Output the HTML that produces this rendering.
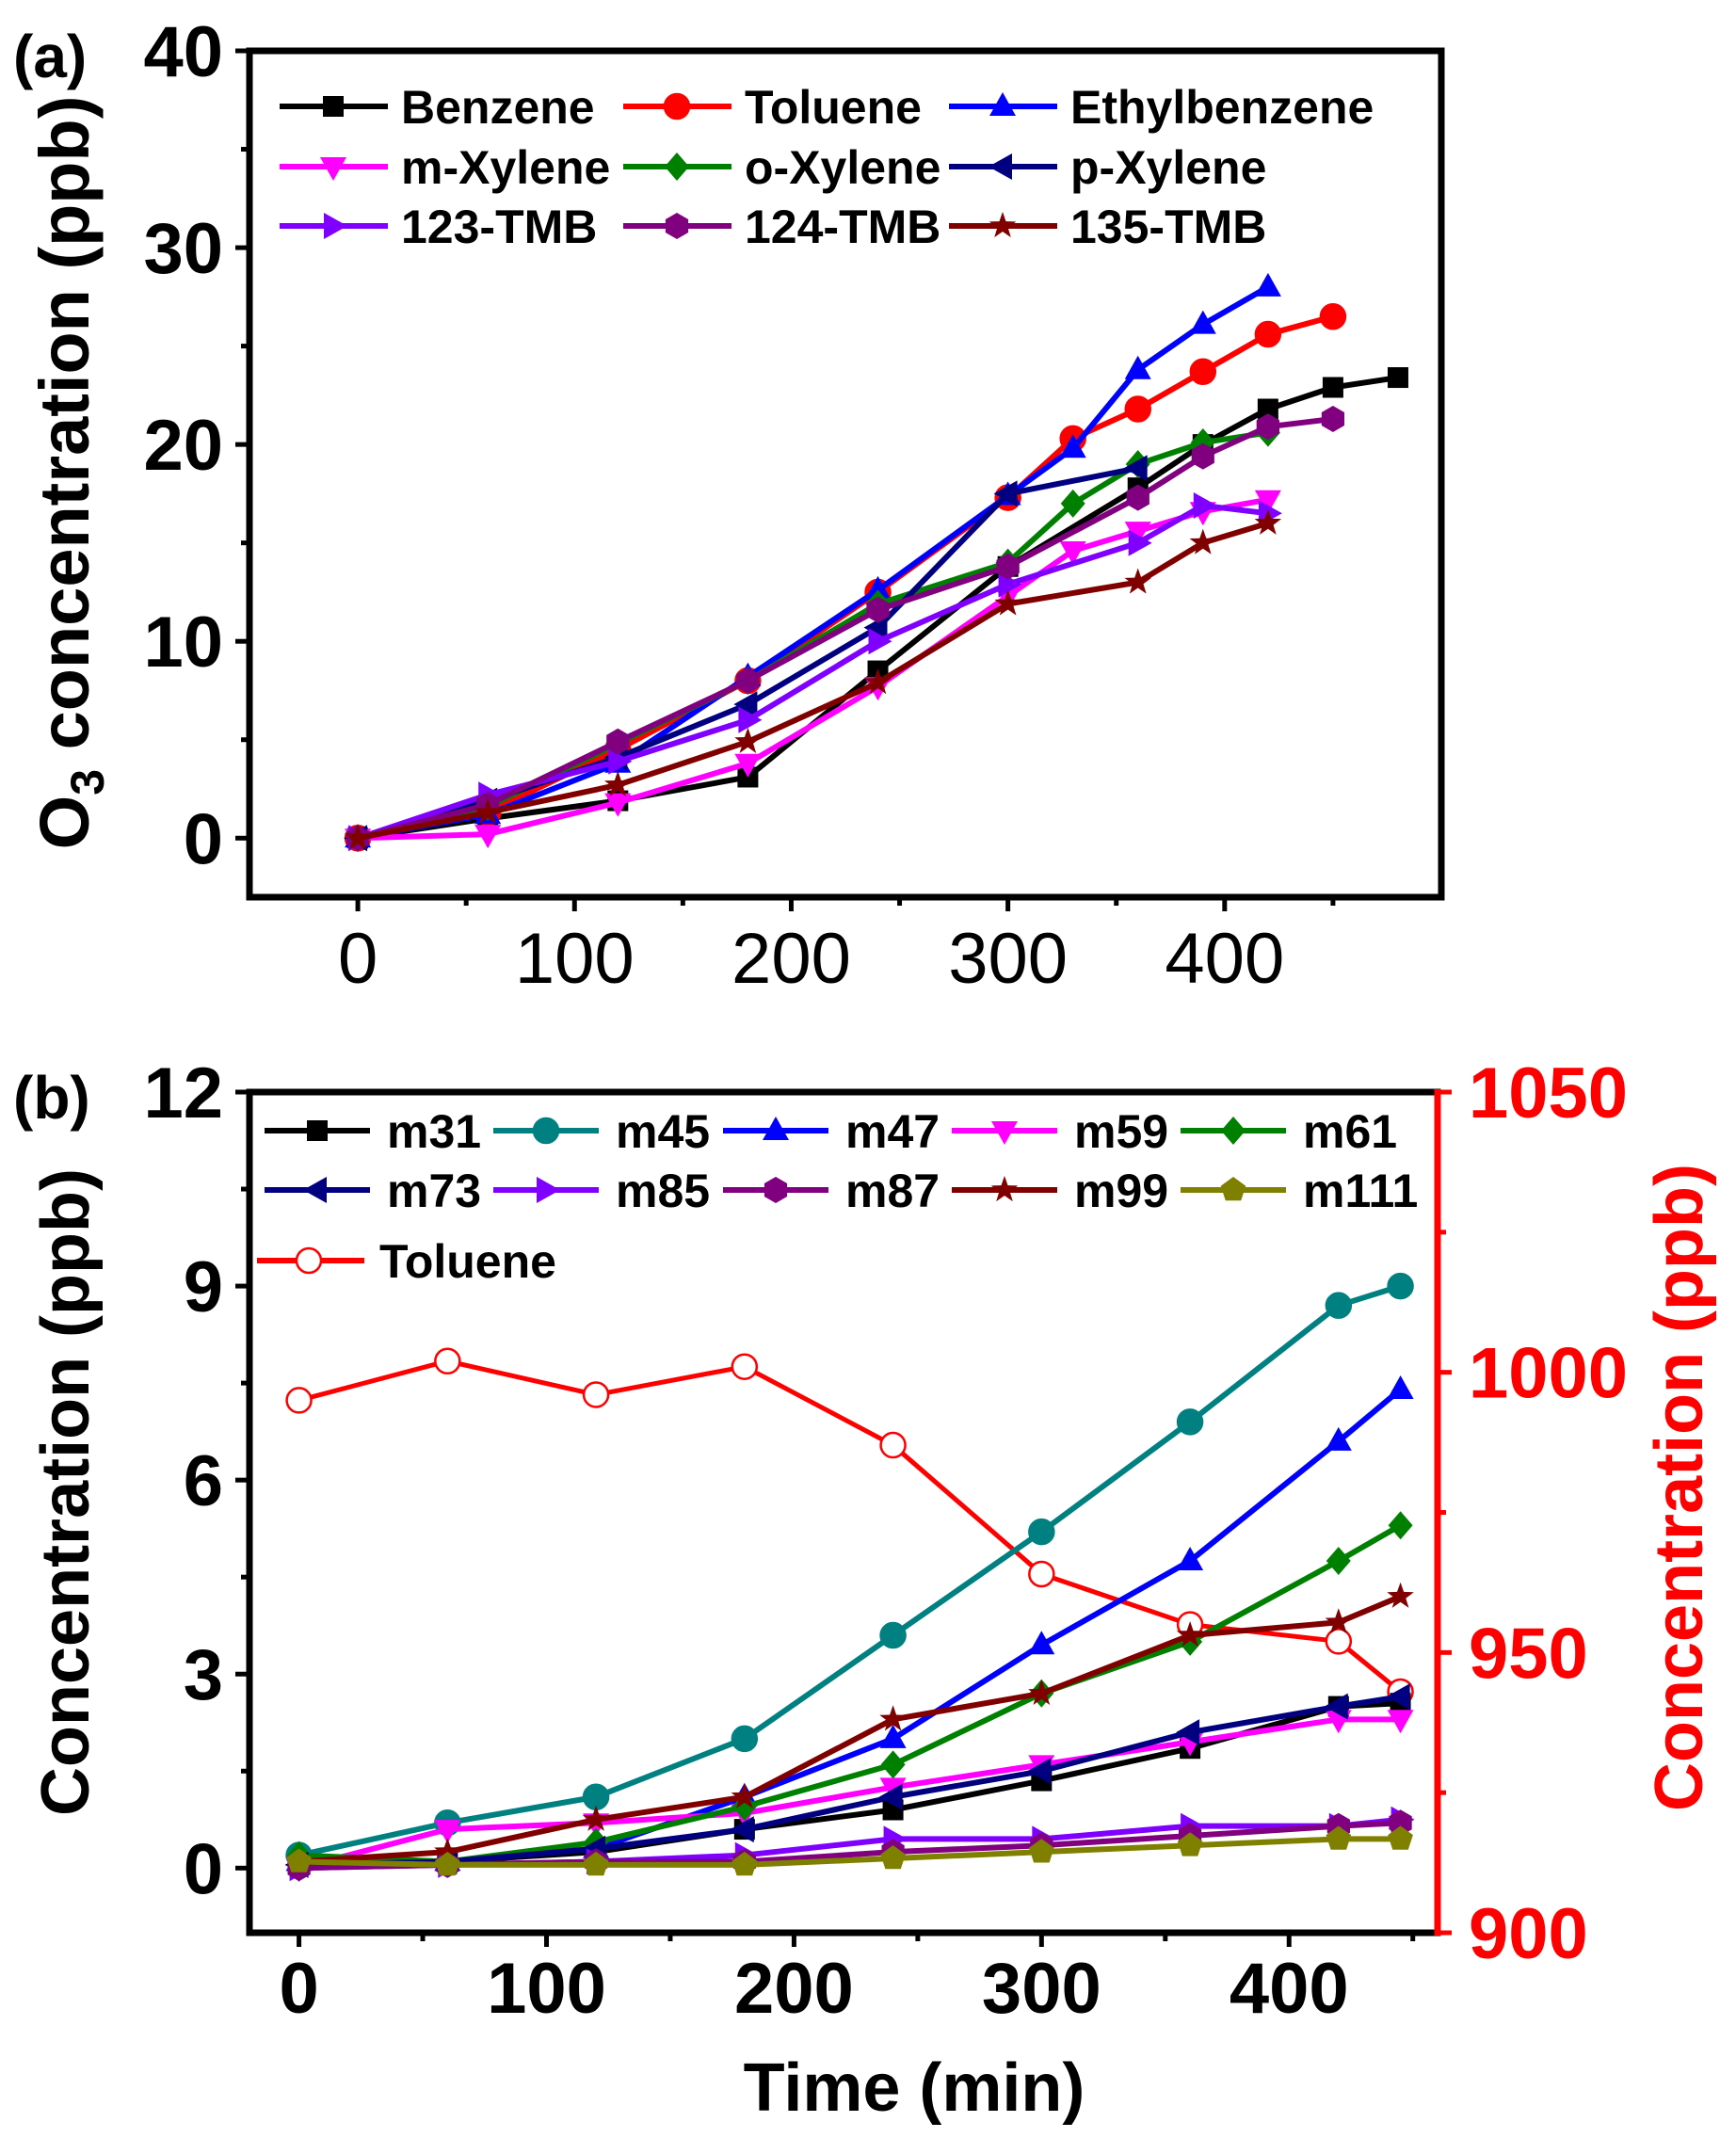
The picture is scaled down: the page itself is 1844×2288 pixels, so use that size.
<!DOCTYPE html>
<html><head><meta charset="utf-8"><style>
body{margin:0;background:#fff}
svg text{font-family:"Liberation Sans",Arial,sans-serif;font-weight:bold}
</style></head><body>
<svg id="s" width="1844" height="2283" viewBox="0 0 1844 2283" xmlns="http://www.w3.org/2000/svg"></svg>
<script>
// ---- Panel (a) data ----
const aSeries = ["Benzene","Toluene","Ethylbenzene","m-Xylene","o-Xylene","p-Xylene","123-TMB","124-TMB","135-TMB"];
const aColors = ["#000000","#ff0000","#0000ff","#ff00ff","#008000","#000080","#8000ff","#800080","#800000"];
const aMarkers = ["square","circle","up","down","diamond","left","right","hex","star"];
const aX_Benzene = [0,60,120,180,240,300,360,390,420,450,480];
const aY_Benzene = [0,1,1.9,3.1,8.5,13.8,17.8,20,21.8,22.9,23.4];
const aX_Toluene = [0,60,120,180,240,300,330,360,390,420,450];
const aY_Toluene = [0,1.3,4.5,8,12.5,17.3,20.3,21.8,23.7,25.6,26.5];
const aX_Ethyl = [0,60,120,180,240,300,330,360,390,420];
const aY_Ethyl = [0,1.2,3.8,8.2,12.6,17.4,19.8,23.8,26.1,28];
const aX_mX = [0,60,120,180,240,300,330,360,390,420];
const aY_mX = [0,0.2,1.8,3.8,7.7,12.3,14.6,15.6,16.6,17.2];
const aX_oX = [0,60,120,180,240,300,330,360,390,420];
const aY_oX = [0,1.6,4.8,8,11.9,14,17,19,20.1,20.6];
const aX_pX = [0,60,120,180,240,300,360];
const aY_pX = [0,1.9,4.1,6.8,10.7,17.5,18.8];
const aX_123 = [0,60,120,180,240,300,360,390,420];
const aY_123 = [0,2.2,3.9,6,10,12.9,15,16.9,16.5];
const aX_124 = [0,60,120,180,240,300,360,390,420,450];
const aY_124 = [0,1.7,4.9,8,11.6,13.8,17.3,19.4,20.9,21.3];
const aX_135 = [0,60,120,180,240,300,360,390,420];
const aY_135 = [0,1.3,2.7,4.9,7.9,11.9,13,15,16];
const aXs = [aX_Benzene,aX_Toluene,aX_Ethyl,aX_mX,aX_oX,aX_pX,aX_123,aX_124,aX_135];
const aYs = [aY_Benzene,aY_Toluene,aY_Ethyl,aY_mX,aY_oX,aY_pX,aY_123,aY_124,aY_135];
const aXTicks = [0,100,200,300,400];
const aYTicks = [0,10,20,30,40];
// ---- Panel (b) data ----
const bTimes = [0,60,120,180,240,300,360,420,445];
const bSeries = ["m31","m45","m47","m59","m61","m73","m85","m87","m99","m111"];
const bColors = ["#000000","#008080","#0000ff","#ff00ff","#008000","#000080","#8000ff","#800080","#800000","#808000"];
const bMarkers = ["square","circle","up","down","diamond","left","right","hex","star","pent"];
const b_m31 = [0.1,0.1,0.25,0.6,0.9,1.35,1.85,2.5,2.55];
const b_m45 = [0.2,0.7,1.1,2.0,3.6,5.2,6.9,8.7,9.0];
const b_m47 = [0.1,0.1,0.3,1.1,2.0,3.45,4.75,6.6,7.4];
const b_m59 = [0,0.6,0.7,0.85,1.25,1.6,1.95,2.3,2.3];
const b_m61 = [0.2,0.1,0.4,0.95,1.6,2.7,3.5,4.75,5.3];
const b_m73 = [0.05,0.1,0.3,0.6,1.1,1.5,2.1,2.5,2.65];
const b_m85 = [0,0.05,0.1,0.2,0.45,0.45,0.65,0.65,0.75];
const b_m87 = [0,0.05,0.1,0.1,0.25,0.35,0.5,0.65,0.7];
const b_m99 = [0.1,0.25,0.75,1.1,2.3,2.7,3.6,3.8,4.2];
const b_m111 = [0.1,0.05,0.05,0.05,0.15,0.25,0.35,0.45,0.45];
const bYs = [b_m31,b_m45,b_m47,b_m59,b_m61,b_m73,b_m85,b_m87,b_m99,b_m111];
const bToluene = [995,1002,996,1001,987,964,955,952,943];
const bXTicks = [0,100,200,300,400];
const bYTicks = [0,3,6,9,12];
const bRTicks = [900,950,1000,1050];

const NS="http://www.w3.org/2000/svg";
const svg=document.getElementById('s');
function el(tag,attrs,parent){const e=document.createElementNS(NS,tag);for(const k in attrs)e.setAttribute(k,attrs[k]);(parent||svg).appendChild(e);return e;}
function txt(s,attrs,parent){const e=el('text',attrs,parent);e.textContent=s;return e;}

function marker(type,cx,cy,col,g,fill){
  const r=13;let e;
  if(type==='square')e=el('rect',{x:cx-r+2,y:cy-r+2,width:2*r-4,height:2*r-4,fill:col},g);
  else if(type==='circle')e=el('circle',{cx:cx,cy:cy,r:r,fill:fill||col,stroke:col,'stroke-width':2.5},g);
  else{
    let pts=[];
    const poly=(arr)=>arr.map(p=>(cx+p[0]).toFixed(1)+','+(cy+p[1]).toFixed(1)).join(' ');
    if(type==='up')pts=[[0,-15],[14,10],[-14,10]];
    else if(type==='down')pts=[[0,15],[14,-10],[-14,-10]];
    else if(type==='left')pts=[[-15,0],[10,-14],[10,14]];
    else if(type==='right')pts=[[15,0],[-10,-14],[-10,14]];
    else if(type==='diamond')pts=[[0,-15],[13,0],[0,15],[-13,0]];
    else if(type==='hex'){for(let i=0;i<6;i++){const a=Math.PI/3*i+Math.PI/6;pts.push([14*Math.cos(a),14*Math.sin(a)]);}}
    else if(type==='pent'){for(let i=0;i<5;i++){const a=-Math.PI/2+2*Math.PI/5*i;pts.push([14*Math.cos(a),14*Math.sin(a)]);}}
    else if(type==='star'){for(let i=0;i<10;i++){const a=-Math.PI/2+Math.PI/5*i;const rr=i%2?6:15;pts.push([rr*Math.cos(a),rr*Math.sin(a)]);}}
    e=el('polygon',{points:poly(pts),fill:col},g);
  }
  return e;
}

// ===== Panel A =====
const A={l:265,r:1531,t:54,b:953,x0:-50,x1:500,y0:-3,y1:40};
const axA=v=>A.l+(v-A.x0)/(A.x1-A.x0)*(A.r-A.l);
const ayA=v=>A.b-(v-A.y0)/(A.y1-A.y0)*(A.b-A.t);
const gA=el('g',{});


for(let v=0;v<=40;v+=5){const y=ayA(v);el('line',{x1:A.l,x2:A.l-(v%10?9:15),y1:y,y2:y,stroke:'#000','stroke-width':5},gA);}
aYTicks.forEach(v=>{const t=txt(String(v),{x:A.l-28,y:ayA(v)+27,'font-size':76,'text-anchor':'end'},gA);});
for(let v=0;v<=450;v+=50){const x=axA(v);el('line',{x1:x,x2:x,y1:A.b,y2:A.b+(v%100?9:15),stroke:'#000','stroke-width':5},gA);}
aXTicks.forEach(v=>{const t=txt(String(v),{x:axA(v),y:1044,'font-size':76,'text-anchor':'middle',style:'font-weight:normal'},gA);});
aSeries.forEach((n,i)=>{
  const g=el('g',{},gA);
  
  
  el('polyline',{points:aXs[i].map((x,j)=>axA(x)+','+ayA(aYs[i][j])).join(' '),fill:'none',stroke:aColors[i],'stroke-width':6,'stroke-linejoin':'round'},g);
  aXs[i].forEach((x,j)=>marker(aMarkers[i],axA(x),ayA(aYs[i][j]),aColors[i],g));
});
el('rect',{x:A.l,y:A.t,width:A.r-A.l,height:A.b-A.t,fill:'none',stroke:'#000','stroke-width':7},gA);
const aLegX=[297,662,1008],aLegTX=[426,791,1137],aLegY=[113,177,240];
aSeries.forEach((n,i)=>{
  const c=i%3,r=Math.floor(i/3);const g=el('g',{},gA);
  
  
  const y=aLegY[r];
  el('line',{x1:aLegX[c],x2:aLegX[c]+115,y1:y,y2:y,stroke:aColors[i],'stroke-width':6},g);
  marker(aMarkers[i],aLegX[c]+57,y,aColors[i],g);
  txt(n,{x:aLegTX[c],y:y+18,'font-size':50},g);
});
let t=txt('(a)',{x:14,y:82,'font-size':64},gA);
t=el('text',{transform:'translate(94,502) rotate(-90)','text-anchor':'middle','font-size':74},gA);

t.innerHTML='O<tspan font-size="50" dy="16">3</tspan><tspan dy="-16"> concentration (ppb)</tspan>';

// ===== Panel B =====
const B={l:265,r:1527,t:1160,b:2053,x0:-20,x1:460,y0:-1,y1:12,r0:900,r1:1050};
const bx=v=>B.l+(v-B.x0)/(B.x1-B.x0)*(B.r-B.l);
const by=v=>B.b-(v-B.y0)/(B.y1-B.y0)*(B.b-B.t);
const byR=v=>B.b-(v-B.r0)/(B.r1-B.r0)*(B.b-B.t);
const gB=el('g',{});


for(let v=0;v<=12;v+=1.5){const y=by(v);el('line',{x1:B.l,x2:B.l-(v%3?9:15),y1:y,y2:y,stroke:'#000','stroke-width':5},gB);}
bYTicks.forEach(v=>{const t=txt(String(v),{x:B.l-28,y:by(v)+27,'font-size':76,'text-anchor':'end'},gB);});
for(let v=900;v<=1050;v+=25){const y=byR(v);el('line',{x1:B.r,x2:B.r+(v%50?9:15),y1:y,y2:y,stroke:'#ff0000','stroke-width':5},gB);}
bRTicks.forEach(v=>{const t=txt(String(v),{x:1560,y:byR(v)+27,'font-size':76,fill:'#ff0000'},gB);});
for(let v=0;v<=450;v+=50){const x=bx(v);el('line',{x1:x,x2:x,y1:B.b,y2:B.b+(v%100?9:15),stroke:'#000','stroke-width':5},gB);}
bXTicks.forEach(v=>{const t=txt(String(v),{x:bx(v),y:2138,'font-size':76,'text-anchor':'middle'},gB);});
{const g=el('g',{},gB);
 
 
 el('polyline',{points:bTimes.map((x,j)=>bx(x)+','+byR(bToluene[j])).join(' '),fill:'none',stroke:'#ff0000','stroke-width':5},g);
 bTimes.forEach((x,j)=>marker('circle',bx(x),byR(bToluene[j]),'#ff0000',g,'#fff'));}
bSeries.forEach((n,i)=>{
  const g=el('g',{},gB);
  
  
  el('polyline',{points:bTimes.map((x,j)=>bx(x)+','+by(bYs[i][j])).join(' '),fill:'none',stroke:bColors[i],'stroke-width':6,'stroke-linejoin':'round'},g);
  bTimes.forEach((x,j)=>marker(bMarkers[i],bx(x),by(bYs[i][j]),bColors[i],g));
});
el('rect',{x:B.l,y:B.t,width:B.r-B.l,height:B.b-B.t,fill:'none',stroke:'#000','stroke-width':7},gB);
el('line',{x1:B.r,x2:B.r,y1:B.t-3,y2:B.b+3,stroke:'#ff0000','stroke-width':7},gB);
const bLegX=[281,524,768,1011,1254],bLegY=[1201,1264];
bSeries.forEach((n,i)=>{
  const c=i%5,r=Math.floor(i/5);const g=el('g',{},gB);
  
  
  const y=bLegY[r];
  el('line',{x1:bLegX[c],x2:bLegX[c]+112,y1:y,y2:y,stroke:bColors[i],'stroke-width':6},g);
  marker(bMarkers[i],bLegX[c]+56,y,bColors[i],g);
  txt(n,{x:bLegX[c]+130,y:y+18,'font-size':50},g);
});
{const g=el('g',{},gB);
 
 
 el('line',{x1:273,x2:387,y1:1339,y2:1339,stroke:'#ff0000','stroke-width':6},g);
 marker('circle',328,1339,'#ff0000',g,'#fff');
 txt('Toluene',{x:403,y:1357,'font-size':50},g);}
t=txt('(b)',{x:14,y:1188,'font-size':64},gB);
t=txt('Concentration (ppb)',{transform:'translate(94,1585) rotate(-90)','text-anchor':'middle','font-size':72},gB);
t=txt('Concentration (ppb)',{transform:'translate(1808,1580) rotate(-90)','text-anchor':'middle','font-size':72,fill:'#ff0000'},gB);
t=txt('Time (min)',{x:971,y:2242,'text-anchor':'middle','font-size':72},gB);
</script>
</body></html>
